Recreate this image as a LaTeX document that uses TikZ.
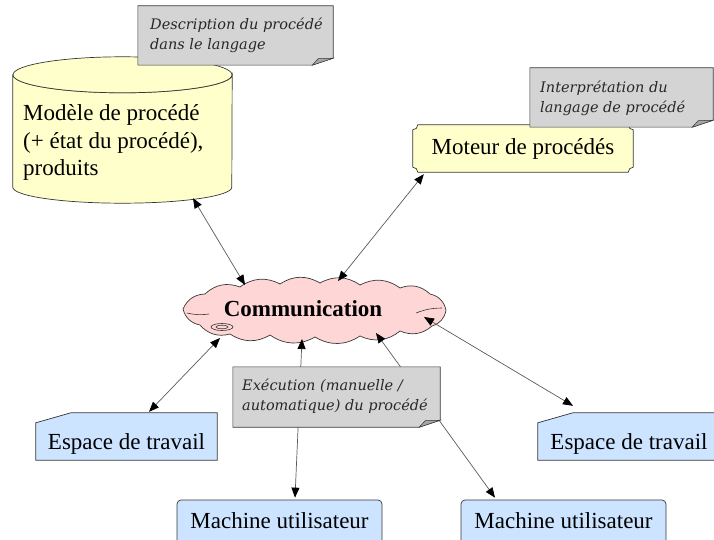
\documentclass[tikz,border=0pt]{standalone}
\usepackage{fontspec}
\setmainfont{Liberation Serif}
\newfontfamily\notefont{DejaVu Serif}
\usetikzlibrary{arrows.meta,calc}
\pgfdeclarelayer{bg}
\pgfdeclarelayer{arrows}
\pgfdeclarelayer{notes}
\pgfsetlayers{bg,arrows,notes,main}
\definecolor{yel}{RGB}{255,255,204}
\definecolor{blu}{RGB}{204,228,255}
\definecolor{pnk}{RGB}{255,214,214}
\definecolor{notegray}{RGB}{212,212,212}
\definecolor{folddark}{RGB}{165,165,165}
\definecolor{edge}{RGB}{55,55,55}
\definecolor{notetext}{RGB}{40,40,40}
\definecolor{linegray}{RGB}{90,90,90}
\tikzset{
  maintext/.style={font=\fontsize{23}{27.5}\selectfont},
  notetextstyle/.style={font=\notefont\itshape\fontsize{14.5}{20.5}\selectfont,
    text=notetext, inner sep=0pt, anchor=base west, align=left},
  notebox/.style={draw=none, inner sep=0pt},
  bluebox/.style={maintext, inner sep=0pt, text height=36pt, text depth=11pt},
  machinebox/.style={maintext, inner sep=0pt, text height=28pt, text depth=20pt,
    draw=edge, line width=0.7pt, fill=blu, rounded corners=4pt},
  conn/.style={draw=linegray, line width=0.7pt,
    {Triangle[length=10pt,width=8pt,color=black]}-{Triangle[length=10pt,width=8pt,color=black]}},
  shapeline/.style={draw=edge, line width=0.7pt},
  puff/.style={bend left=32}
}
\begin{document}
\begin{tikzpicture}[x=1pt,y=-1pt]
\useasboundingbox (0,0) rectangle (714,540);

% --- nodes ---
\node[draw=none, inner sep=0pt, minimum width=219pt, minimum height=146pt] (cylbox) at (122.5,130) {};
\node[maintext, inner sep=0pt, anchor=base west, align=left] (cylt) at (23,175.5)
  {Modèle de procédé\\(+ état du procédé),\\produits};
\node[maintext, inner sep=0pt, minimum width=220pt, text height=30pt, text depth=17pt] (mot) at (523,148.5) {Moteur de procédés};
\node[draw=none, inner sep=0pt, minimum width=263pt, minimum height=54pt] (comm) at (314,310) {};
\node[font=\bfseries\fontsize{23}{23}\selectfont, inner sep=0pt] (commlbl) at (303,309) {Communication};
\node[bluebox, minimum width=181pt] (e1) at (126.5,436.5) {Espace de travail};
\node[bluebox, minimum width=182pt] (e2) at (629,436.5) {Espace de travail};
\node[machinebox, minimum width=205pt] (m1) at (279.5,524) {Machine utilisateur};
\node[machinebox, minimum width=205pt] (m2) at (563.5,524) {Machine utilisateur};

\node[notebox, minimum width=195pt, minimum height=59pt] (n1) at (235.5,35.5) {};
\node[notebox, minimum width=183pt, minimum height=59pt] (n2) at (621.5,97.5) {};
\node[notebox, minimum width=207pt, minimum height=60pt] (n3) at (336.5,397) {};
\node[notetextstyle] (n1t) at (150,50) {Description du procédé\\dans le langage};
\node[notetextstyle] (n2t) at (540,112.7) {Interprétation du\\langage de procédé};
\node[notetextstyle] (n3t) at (242,410.5) {Exécution (manuelle /\\automatique) du procédé};

% --- shapes behind ---
\begin{pgfonlayer}{bg}
  \path[fill=yel, shapeline] ($(cylbox.north west)+(0,18)$) -- ($(cylbox.south west)+(0,-16)$)
    arc[start angle=180, end angle=0, x radius=109.5, y radius=16]
    -- ($(cylbox.north east)+(0,18)$)
    arc[start angle=0, end angle=180, x radius=109.5, y radius=18] -- cycle;
  \path[fill=yel, shapeline] ($(cylbox.north)+(0,18)$) ellipse[x radius=109.5, y radius=18];
  \path[fill=yel, shapeline] ($(mot.north west)+(0,5)$) arc[start angle=90, end angle=0, radius=5]
    -- ($(mot.north east)+(-5,0)$) arc[start angle=180, end angle=90, radius=5]
    -- ($(mot.south east)+(0,-5)$) arc[start angle=270, end angle=180, radius=5]
    -- ($(mot.south west)+(5,0)$) arc[start angle=0, end angle=-90, radius=5] -- cycle;
  \foreach \b in {e1,e2}{
    \path[fill=blu, shapeline] (\b.south west) -- ($(\b.north west)+(0,10)$) -- ($(\b.north west)+(35,0)$)
      -- (\b.north east) -- (\b.south east) -- cycle;
  }
  \begin{scope}[shift={(comm.center)}]
    \path[fill=pnk, shapeline] (-131,-1) to[puff] (-109,-16) to[puff] (-74,-23)
      to[puff] (-34,-26) to[puff] (6,-27) to[puff] (46,-25)
      to[puff] (86,-22) to[puff] (116,-16) to[puff] (132,0)
      to[puff] (118,16) to[puff] (86,21) to[puff] (46,26)
      to[puff] (1,27) to[puff] (-44,25) to[puff] (-84,24)
      to[puff] (-114,15) to[puff] (-131,-1) -- cycle;
    \draw[edge, line width=0.6pt] (-127,3) to[bend right=10] (-105,4);
    \draw[edge, line width=0.6pt] (102,3) to[bend left=10] (128,-2);
    \draw[edge, line width=0.6pt] (-92,17) ellipse[x radius=11, y radius=3.5];
    \draw[edge, line width=0.6pt] (-92,17) ellipse[x radius=6, y radius=1.8];
  \end{scope}
\end{pgfonlayer}

% --- connectors ---
\begin{pgfonlayer}{arrows}
  \draw[conn] ($(cylbox.south)+(70.5,-5)$) -- ($(comm.center)+(-69,-25)$);
  \draw[conn] ($(mot.south west)+(11,2)$) -- ($(comm.center)+(24,-29)$);
  \draw[conn] ($(comm.center)+(-94,28)$) -- ($(e1.north)+(22.5,-1)$);
  \draw[conn] ($(comm.center)+(-12,29)$) -- ($(m1.north)+(15.5,-2)$);
  \draw[conn] ($(comm.center)+(62,23)$) -- ($(m2.north)+(-68.5,-2)$);
  \draw[conn] ($(comm.center)+(110,7)$) -- ($(e2.north)+(-56,-7)$);
\end{pgfonlayer}

% --- notes ---
\begin{pgfonlayer}{notes}
  \foreach \n in {n1,n2,n3}{
    \path[fill=notegray, draw=edge, line width=0.6pt] (\n.north west) -- (\n.north east)
      -- ($(\n.south east)+(0,-7)$) -- ($(\n.south east)+(-21,0)$) -- (\n.south west) -- cycle;
    \path[fill=folddark, draw=edge, line width=0.5pt] ($(\n.south east)+(-21,0)$)
      -- ($(\n.south east)+(-15,-6.5)$) -- ($(\n.south east)+(0,-7)$) -- cycle;
  }
\end{pgfonlayer}
\end{tikzpicture}
\end{document}
